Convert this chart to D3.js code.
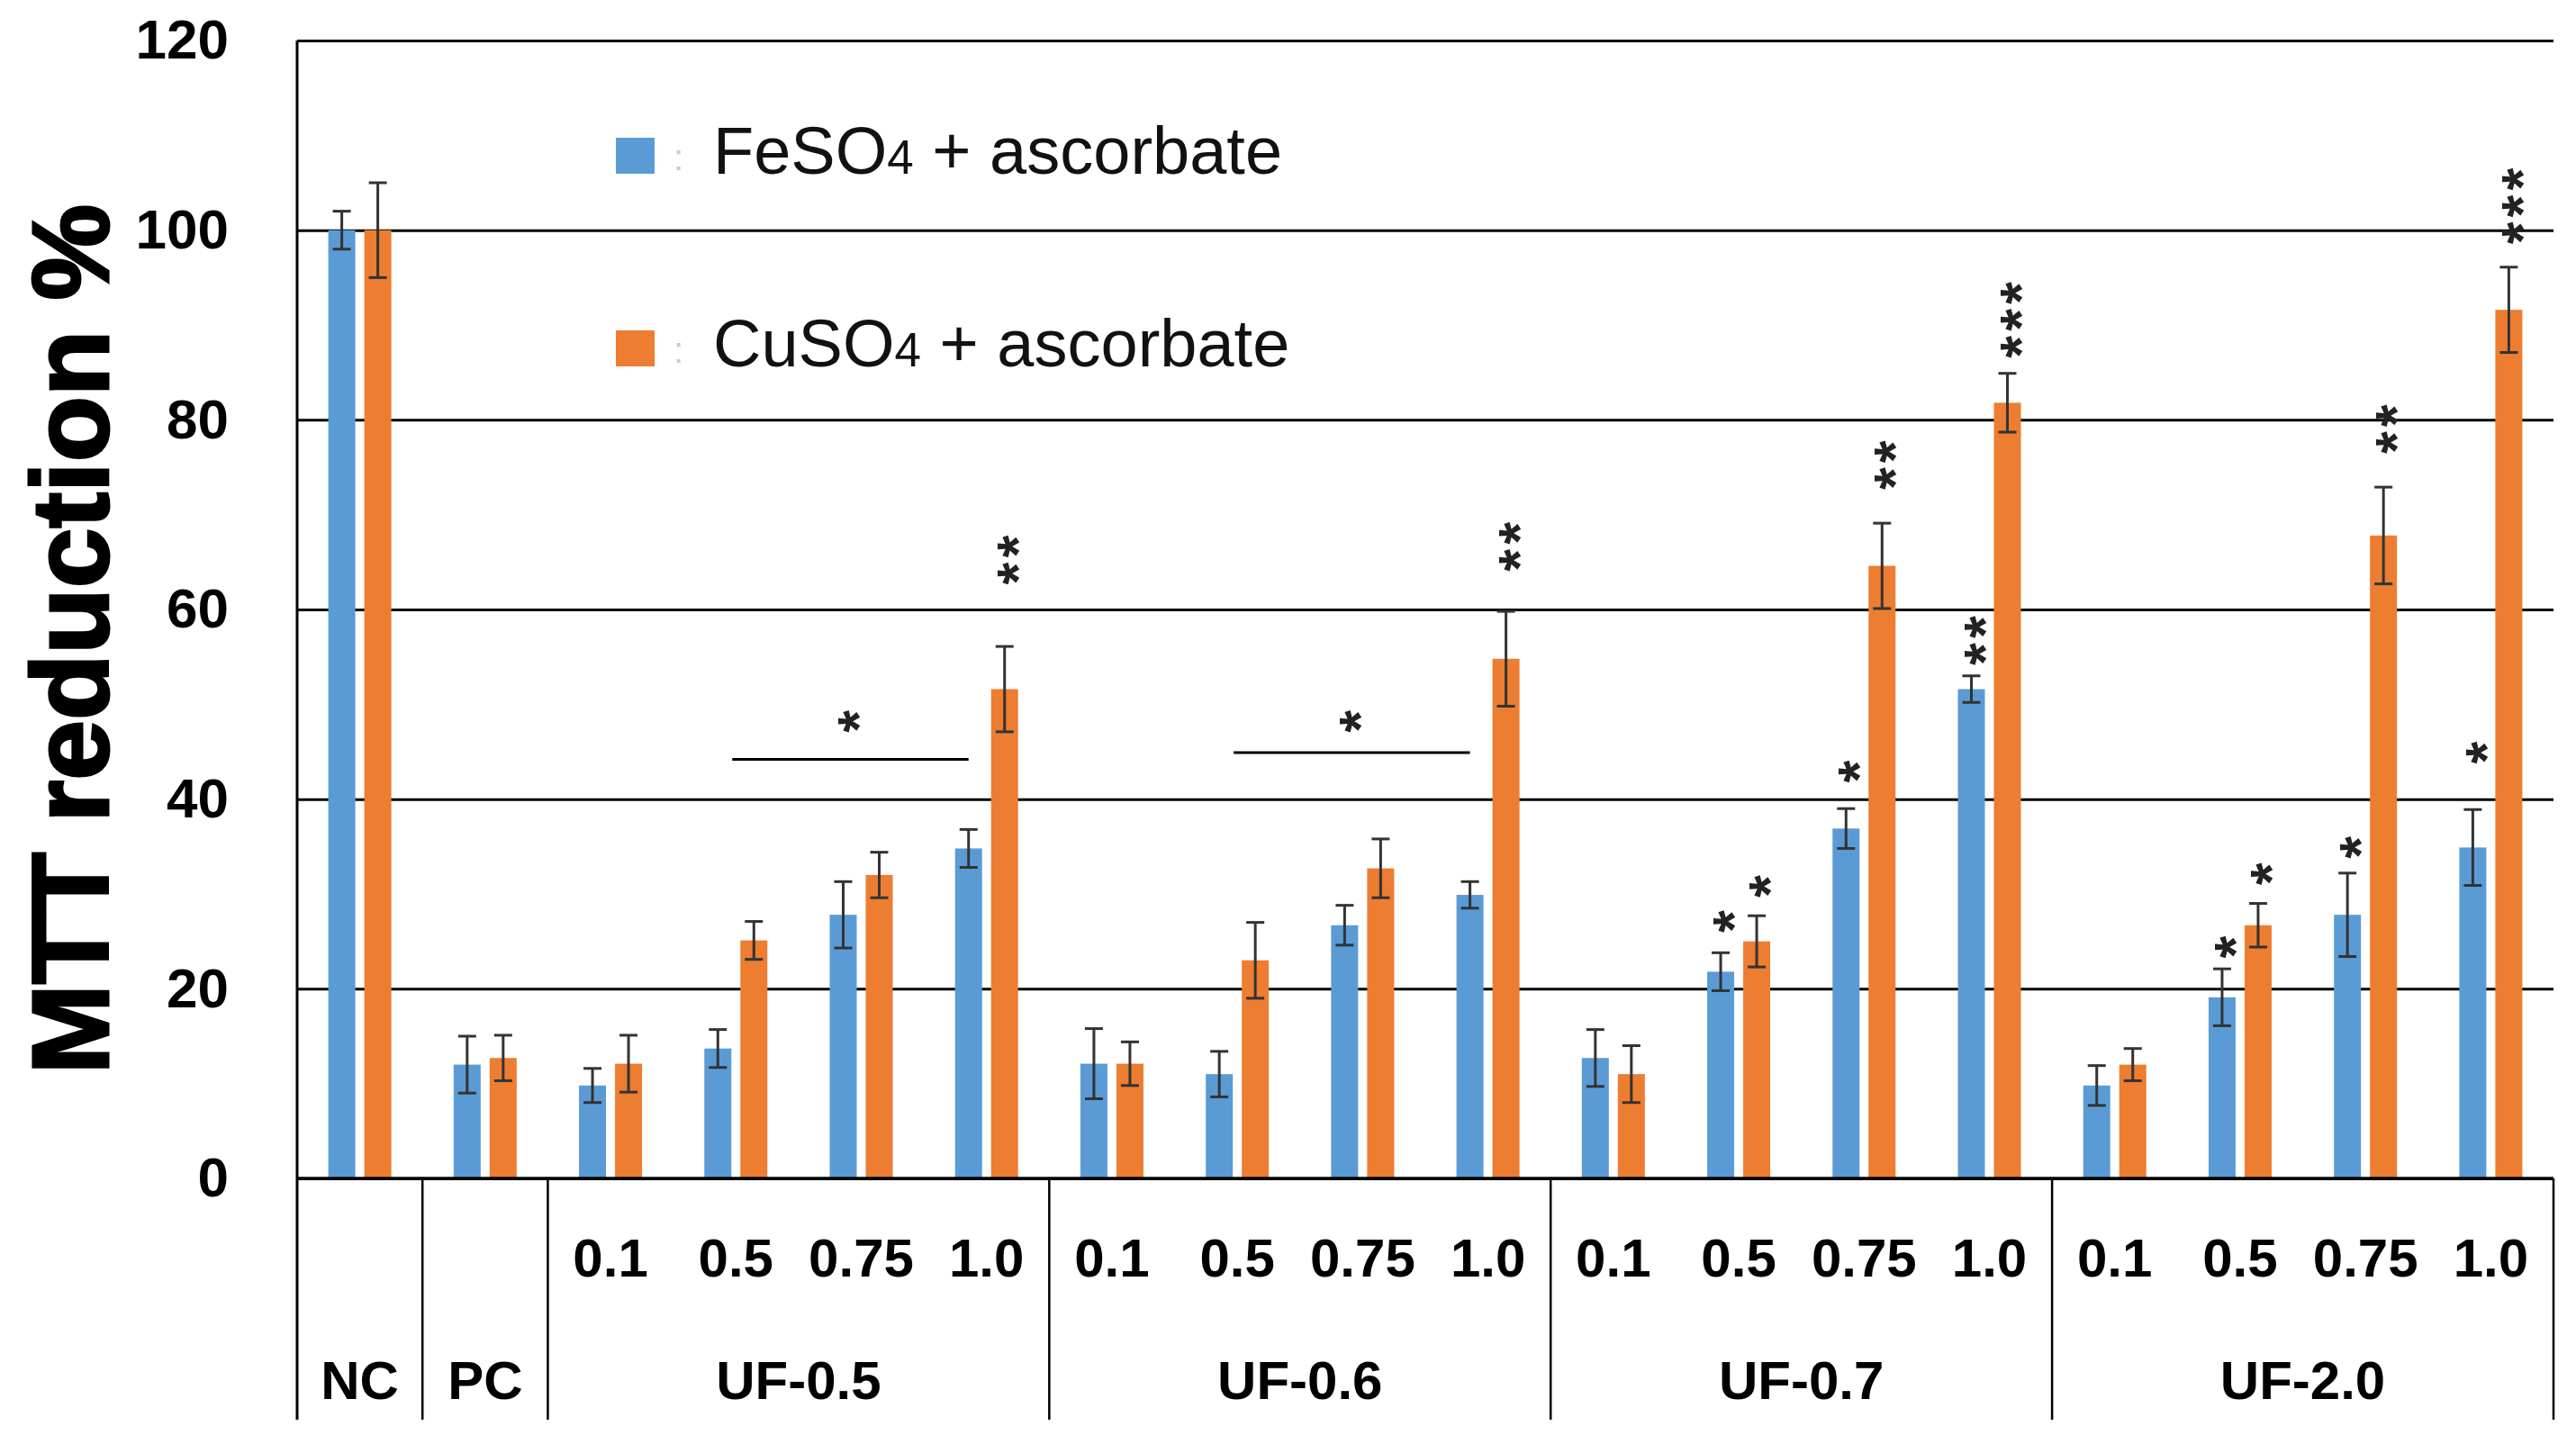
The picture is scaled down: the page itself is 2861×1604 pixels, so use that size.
<!DOCTYPE html>
<html>
<head>
<meta charset="utf-8">
<script src="https://cdn.jsdelivr.net/npm/d3@7"></script>
<style>
  body { margin: 0; background: #fff; }
  text { font-family: "Liberation Sans", Arial, sans-serif; }
</style>
</head>
<body>
<script>
// chart values
const slotLabels = ["", "", "0.1", "0.5", "0.75", "1.0", "0.1", "0.5", "0.75", "1.0",
                    "0.1", "0.5", "0.75", "1.0", "0.1", "0.5", "0.75", "1.0"];
const groupNames = ["NC", "PC", "UF-0.5", "UF-0.6", "UF-0.7", "UF-2.0"];
const groupSpans = [1, 1, 4, 4, 4, 4];

const feMean = [100, 12, 9.8, 13.7, 27.8, 34.8, 12.1, 11.0, 26.7, 29.9, 12.7, 21.8, 36.9, 51.6, 9.8, 19.1, 27.8, 34.9];
const feErr  = [2, 3, 1.8, 2, 3.5, 2, 3.7, 2.4, 2.1, 1.4, 3, 2, 2.1, 1.4, 2.1, 3, 4.4, 4];
const cuMean = [100, 12.7, 12.1, 25.1, 32.0, 51.6, 12.1, 23.0, 32.7, 54.8, 11.0, 25.0, 64.6, 81.8, 12.0, 26.7, 67.8, 91.6];
const cuErr  = [5, 2.4, 3, 2, 2.4, 4.5, 2.3, 4, 3.1, 5, 3, 2.7, 4.5, 3.1, 1.7, 2.3, 5.1, 4.5];

const yTicks = [0, 20, 40, 60, 80, 100, 120];

// significance stars above single bars (value = lowest star)
const starSlot   = [5, 9, 11, 11, 12, 12, 13, 13, 15, 15, 16, 16, 17, 17];
const starSeries = ["cu", "cu", "fe", "cu", "fe", "cu", "fe", "cu", "fe", "cu", "fe", "cu", "fe", "cu"];
const starCount  = [2, 2, 1, 1, 1, 2, 2, 3, 1, 1, 1, 2, 1, 3];
const starValue  = [63.8, 65.2, 27.1, 30.8, 42.9, 73.8, 55.3, 87.7, 24.4, 32.1, 34.9, 77.6, 44.9, 99.7];

// bracket lines with a star
const sigFrom = [3, 7];
const sigTo = [5, 9];
const sigLineValue = [44.2, 44.9];
const sigStarValue = [48.2, 48.2];

const series = ["fe", "cu"];
const seriesLabel = ["FeSO", "CuSO"];
const colors = {fe: "#5B9BD5", cu: "#ED7D31"};

const W = 2861, H = 1604;
const plotLeft = 330, plotRight = 2836, plotTop = 45, zeroY = 1309, tableBottom = 1577;

const svg = d3.select("body").append("svg")
    .attr("width", W)
    .attr("height", H);

svg.append("rect").attr("width", W).attr("height", H).attr("fill", "#fff");

const x = d3.scaleBand()
    .domain(d3.range(slotLabels.length))
    .range([plotLeft, plotRight])
    .padding(0);

const x1 = d3.scaleBand()
    .domain(series)
    .range([0, 70])
    .paddingInner(0.25);

const y = d3.scaleLinear()
    .domain([0, 120])
    .range([zeroY, plotTop]);

function cx(i) { return x(i) + x.bandwidth() / 2; }
function barX(i, s) { return cx(i) - 35 + x1(s); }

// grid + y labels
const yAxis = svg.append("g")
    .attr("transform", "translate(" + plotLeft + ",0)")
    .call(d3.axisLeft(y).tickValues(yTicks).tickSize(-(plotRight - plotLeft)).tickPadding(76));
yAxis.select(".domain").remove();
yAxis.selectAll(".tick line").attr("stroke", "#000").attr("stroke-width", 3);
yAxis.selectAll(".tick text")
    .attr("font-family", "'Liberation Sans', Arial, sans-serif")
    .attr("font-size", 62)
    .attr("font-weight", "bold")
    .attr("fill", "#000");

// bars
const rows = d3.range(slotLabels.length).flatMap(function(i) {
    return [
        {i: i, s: "fe", v: feMean[i], e: feErr[i]},
        {i: i, s: "cu", v: cuMean[i], e: cuErr[i]}
    ];
});

svg.append("g").selectAll("rect")
    .data(rows)
    .enter()
    .append("rect")
    .attr("x", function(d) { return barX(d.i, d.s); })
    .attr("y", function(d) { return y(d.v); })
    .attr("width", x1.bandwidth())
    .attr("height", function(d) { return zeroY - y(d.v); })
    .attr("fill", function(d) { return colors[d.s]; });

// error bars
const eb = svg.append("g")
    .attr("stroke", "#333")
    .attr("stroke-width", 3)
    .selectAll("g")
    .data(rows)
    .enter()
    .append("g");

eb.append("line")
    .attr("x1", function(d) { return barX(d.i, d.s) + x1.bandwidth() / 2; })
    .attr("x2", function(d) { return barX(d.i, d.s) + x1.bandwidth() / 2; })
    .attr("y1", function(d) { return y(d.v - d.e); })
    .attr("y2", function(d) { return y(d.v + d.e); });

[-1, 1].forEach(function(k) {
    eb.append("line")
        .attr("x1", function(d) { return barX(d.i, d.s) + x1.bandwidth() / 2 - 10; })
        .attr("x2", function(d) { return barX(d.i, d.s) + x1.bandwidth() / 2 + 10; })
        .attr("y1", function(d) { return y(d.v + k * d.e); })
        .attr("y2", function(d) { return y(d.v + k * d.e); });
});

// zero line drawn again on top
svg.append("line")
    .attr("x1", plotLeft).attr("x2", plotRight)
    .attr("y1", zeroY).attr("y2", zeroY)
    .attr("stroke", "#000").attr("stroke-width", 3.5);

// left axis line runs down through the table
svg.append("line")
    .attr("x1", plotLeft).attr("x2", plotLeft)
    .attr("y1", plotTop).attr("y2", tableBottom)
    .attr("stroke", "#000").attr("stroke-width", 3);

// group dividers in the table
let bounds = [0];
groupSpans.forEach(function(n) { bounds.push(bounds[bounds.length - 1] + n); });

function boundX(b) { return b < slotLabels.length ? x(b) : plotRight; }

svg.append("g").selectAll("line")
    .data(bounds.slice(1))
    .enter()
    .append("line")
    .attr("x1", boundX)
    .attr("x2", boundX)
    .attr("y1", zeroY)
    .attr("y2", tableBottom)
    .attr("stroke", "#000")
    .attr("stroke-width", 2.5);

// sub labels
svg.append("g").selectAll("text")
    .data(slotLabels)
    .enter()
    .append("text")
    .attr("x", function(d, i) { return cx(i); })
    .attr("y", 1418)
    .attr("text-anchor", "middle")
    .attr("font-size", 60)
    .attr("font-weight", "bold")
    .text(function(d) { return d; });

// group labels
svg.append("g").selectAll("text")
    .data(groupNames)
    .enter()
    .append("text")
    .attr("x", function(d, g) { return (boundX(bounds[g]) + boundX(bounds[g + 1])) / 2; })
    .attr("y", 1554)
    .attr("text-anchor", "middle")
    .attr("font-size", 60)
    .attr("font-weight", "bold")
    .text(function(d) { return d; });

// y title
svg.append("text")
    .attr("transform", "translate(120,710) rotate(-90)")
    .attr("text-anchor", "middle")
    .attr("font-size", 120)
    .attr("font-weight", "bold")
    .attr("stroke", "#000")
    .attr("stroke-width", 3)
    .text("MTT reduction %");

// stars: stacked vertically as one rotated text, like the original
const starFs = 64, starSpacing = 5;
function drawStars(px, py, n) {
    svg.append("text")
        .attr("transform", "translate(" + (px + starFs * 0.58) + "," + (py + starFs * 0.195) + ") rotate(-90)")
        .attr("font-size", starFs)
        .attr("font-weight", "bold")
        .attr("letter-spacing", starSpacing)
        .attr("fill", "#222")
        .text("*".repeat(n));
}

starSlot.forEach(function(s, k) {
    const px = barX(s, starSeries[k]) + x1.bandwidth() / 2;
    drawStars(px, y(starValue[k]), starCount[k]);
});

// brackets
sigFrom.forEach(function(f, k) {
    const xa = barX(f, "fe") + x1.bandwidth() / 2 + 16;
    const xb = barX(sigTo[k], "fe") + x1.bandwidth() / 2;
    svg.append("line")
        .attr("x1", xa).attr("x2", xb)
        .attr("y1", y(sigLineValue[k])).attr("y2", y(sigLineValue[k]))
        .attr("stroke", "#000").attr("stroke-width", 3);
    drawStars((xa + xb) / 2 - 6, y(sigStarValue[k]), 1);
});

// legend
const legendY = [193, 407];
const lg = svg.append("g").selectAll("g")
    .data(series)
    .enter()
    .append("g")
    .attr("transform", function(d, i) { return "translate(684," + legendY[i] + ")"; });

lg.append("rect")
    .attr("x", 0).attr("y", -40)
    .attr("width", 43).attr("height", 40)
    .attr("fill", function(d) { return colors[d]; });

lg.append("text")
    .attr("x", 64).attr("y", -4)
    .attr("font-size", 40)
    .attr("fill", "#ccc")
    .text(":");

const lt = lg.append("text")
    .attr("x", 108)
    .attr("y", 0)
    .attr("font-size", 74)
    .attr("fill", "#111");
lt.append("tspan").text(function(d, i) { return seriesLabel[i]; });
lt.append("tspan").attr("font-size", 53).text("4");
lt.append("tspan").text(" + ascorbate");
</script>
</body>
</html>
